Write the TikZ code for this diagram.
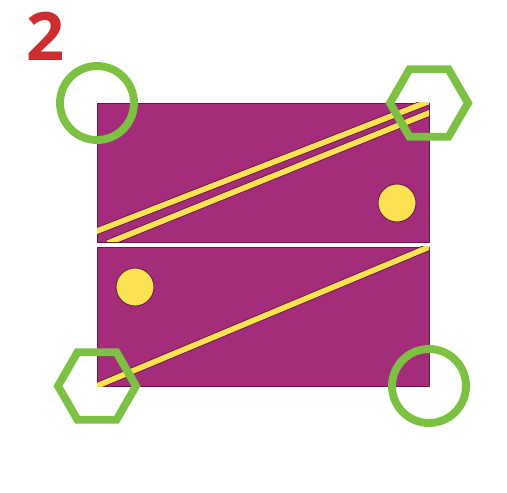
\documentclass[tikz,border=0pt]{standalone}
\usepackage{fontspec}
\setsansfont{Open Sans}
\usetikzlibrary{shapes.geometric}
\definecolor{plum}{RGB}{163, 45, 122}
\definecolor{plumdark}{RGB}{105, 25, 70}
\definecolor{lemon}{RGB}{250, 226, 82}
\definecolor{leaf}{RGB}{124, 193, 66}
\definecolor{brick}{RGB}{204, 46, 48}

\begin{document}
\begin{tikzpicture}[x=0.02cm, y=-0.02cm,
        panel/.style={fill=plum, draw=plumdark, line width=0.5pt},
        stripe/.style={draw=plumdark, line width=0.5pt,
                       double=lemon, double distance=3.2pt},
        dot/.style={circle, fill=lemon, draw=plumdark, line width=0.5pt,
                    minimum size=0.76cm, inner sep=0pt},
        ring/.style={circle, draw=leaf, line width=4.5pt,
                     minimum size=1.48cm, inner sep=0pt},
        hexring/.style={regular polygon, regular polygon sides=6,
                        draw=leaf, line width=4.5pt,
                        minimum size=1.56cm, inner sep=0pt},
      ]
        \useasboundingbox (0,0) rectangle (507,493);

        \node[text=brick, font=\sffamily\bfseries\fontsize{38}{38}\selectfont]
              (num) at (46,36) {2};

        % two panels
        \coordinate (tl) at (97,103);
        \coordinate (tr) at (429,242);
        \coordinate (bl) at (97,247);
        \coordinate (br) at (429,386);
        \draw[panel] (tl) rectangle (tr);
        \draw[panel] (bl) rectangle (br);

        \begin{scope}
          \clip (tl) rectangle (tr);
          \coordinate (s1a) at (92,233);
          \coordinate (s1b) at (430,101);
          \coordinate (s2a) at (108,243);
          \coordinate (s2b) at (434,111);
          \draw[stripe] (s1a) -- (s1b);
          \draw[stripe] (s2a) -- (s2b);
        \end{scope}
        \begin{scope}
          \clip (bl) rectangle (br);
          \coordinate (s3a) at (92,388);
          \coordinate (s3b) at (434,245);
          \draw[stripe] (s3a) -- (s3b);
        \end{scope}

        \node[dot] (dotup) at (397,203) {};
        \node[dot] (dotdown) at (135,287) {};

        \node[ring] (ringtl) at (97,103) {};
        \node[hexring] (hextr) at (429,103) {};
        \node[hexring] (hexbl) at (97,386) {};
        \node[ring] (ringbr) at (429,386) {};
      \end{tikzpicture}
\end{document}
